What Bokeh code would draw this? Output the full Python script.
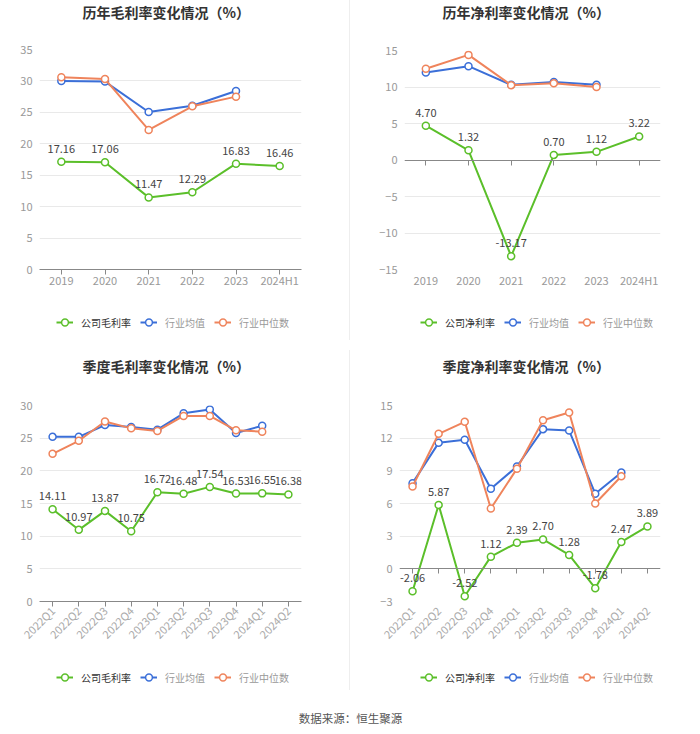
import math
from bokeh.plotting import figure
from bokeh.models import (FactorRange, Range1d, FixedTicker, CategoricalAxis,
                          Legend, LegendItem, Div, Title)
from bokeh.layouts import row, column
from bokeh.core.properties import value
from bokeh.embed import file_html
from bokeh.resources import INLINE

FONT = "Noto Sans CJK SC"
GREEN = "#5bbf2a"
BLUE = "#3b6fd8"
ORANGE = "#ef845c"
NAN = float("nan")

years = ["2019", "2020", "2021", "2022", "2023", "2024H1"]
quarters = ["2022Q1", "2022Q2", "2022Q3", "2022Q4", "2023Q1", "2023Q2",
            "2023Q3", "2023Q4", "2024Q1", "2024Q2"]

annual_gross_company = [17.16, 17.06, 11.47, 12.29, 16.83, 16.46]
annual_gross_mean = [30.0, 29.9, 25.05, 26.06, 28.4]
annual_gross_median = [30.6, 30.3, 22.2, 25.96, 27.5]

annual_net_company = [4.70, 1.32, -13.17, 0.70, 1.12, 3.22]
annual_net_mean = [12.0, 12.85, 10.3, 10.7, 10.3]
annual_net_median = [12.5, 14.4, 10.25, 10.5, 10.0]

quarter_gross_company = [14.11, 10.97, 13.87, 10.75, 16.72, 16.48, 17.54, 16.53, 16.55, 16.38]
quarter_gross_mean = [25.2, 25.2, 27.0, 26.7, 26.3, 28.8, 29.4, 25.8, 26.9]
quarter_gross_median = [22.6, 24.6, 27.55, 26.5, 26.1, 28.4, 28.4, 26.2, 26.0]

quarter_net_company = [-2.06, 5.87, -2.52, 1.12, 2.39, 2.70, 1.28, -1.78, 2.47, 3.89]
quarter_net_mean = [7.87, 11.57, 11.85, 7.35, 9.4, 12.83, 12.7, 6.9, 8.85]
quarter_net_median = [7.56, 12.4, 13.5, 5.54, 9.2, 13.65, 14.35, 6.0, 8.5]

legend_labels_gross = ["公司毛利率", "行业均值", "行业中位数"]
legend_labels_net = ["公司净利率", "行业均值", "行业中位数"]
footer_text = ["数据来源：恒生聚源"]


def make_panel(title, cats, company, mean, median, y0, y1, step,
               width, height, left, right, top, bottom, rotated, zero_axis,
               title_offset, spacer_standoff):
    p = figure(width=width, height=height, x_range=FactorRange(factors=cats),
               y_range=Range1d(y0, y1), output_backend="svg",
               toolbar_location=None, min_border_left=left,
               min_border_right=right, min_border_top=top,
               min_border_bottom=bottom)
    p.outline_line_color = None
    p.background_fill_color = "white"
    p.border_fill_color = "white"
    # spacer (closest to frame) then real title above it
    p.add_layout(Title(text=" ", text_font_size="1px", standoff=spacer_standoff,
                       text_color="white"), "above")
    p.add_layout(Title(text=title, align="left", offset=title_offset, standoff=0,
                       vertical_align="top",
                       text_font=FONT, text_font_size="14px",
                       text_font_style="bold", text_color="#333333"), "above")

    p.xgrid.grid_line_color = None
    p.ygrid.grid_line_color = "#e9e9e9"
    p.yaxis.ticker = FixedTicker(ticks=list(range(y0, y1 + 1, step)))
    p.yaxis.axis_line_color = None
    p.yaxis.major_tick_line_color = None
    p.yaxis.minor_tick_line_color = None
    p.yaxis.major_tick_out = 0
    p.yaxis.major_label_standoff = 7
    p.yaxis.major_label_text_font = FONT
    p.yaxis.major_label_text_font_size = "11px"
    p.yaxis.major_label_text_color = "#999999"

    xa = p.xaxis[0]
    xa.major_label_text_font = FONT
    xa.major_label_text_font_size = "11px"
    xa.major_label_text_color = "#999999" if not rotated else "#aaaaaa"
    if rotated:
        xa.major_label_orientation = math.pi / 4
    if zero_axis:
        xa.axis_line_color = None
        xa.major_tick_line_color = None
        xa.major_tick_out = 0
        xa.major_label_standoff = 2 if not rotated else 7
        za = CategoricalAxis(fixed_location=0, axis_line_color="#888888",
                             major_tick_line_color="#888888",
                             major_tick_out=5, major_tick_in=0,
                             major_label_text_color=None)
        p.add_layout(za, "below")
    else:
        xa.axis_line_color = "#888888"
        xa.major_tick_line_color = "#888888"
        xa.major_tick_out = 5
        xa.major_tick_in = 0
        xa.major_label_standoff = -3 if not rotated else 2

    n = len(mean)
    p.line(cats[:n], mean, line_color=BLUE, line_width=2)
    p.scatter(cats[:n], mean, size=7, marker="circle", fill_color="white",
              line_color=BLUE, line_width=1.5)
    n2 = len(median)
    p.line(cats[:n2], median, line_color=ORANGE, line_width=2)
    p.scatter(cats[:n2], median, size=7, marker="circle", fill_color="white",
              line_color=ORANGE, line_width=1.5)
    p.line(cats, company, line_color=GREEN, line_width=2)
    p.scatter(cats, company, size=7, marker="circle", fill_color="white",
              line_color=GREEN, line_width=1.5)
    p.text(x=cats, y=company, text=[f"{v:.2f}" for v in company],
           text_align="center", text_baseline="middle", y_offset=-13,
           text_font=value(FONT), text_font_size="11px", text_color="#444444")
    return p


def make_legend(labels, width, height, xs, center):
    lf = figure(width=width, height=height, x_range=Range1d(0, 1),
                y_range=Range1d(0, 1), output_backend="svg",
                toolbar_location=None, x_axis_location=None,
                y_axis_location=None, min_border=0)
    lf.outline_line_color = None
    lf.grid.visible = False
    gh = 20
    colors = [GREEN, BLUE, ORANGE]
    text_colors = ["#333333", "#999999", "#999999"]
    for lab, c, tc, lx in zip(labels, colors, text_colors, xs):
        lr = lf.line(x=[NAN], y=[NAN], line_color=c, line_width=2)
        sr = lf.scatter(x=[NAN], y=[NAN], size=7, marker="circle",
                        fill_color="white", line_color=c, line_width=1.5)
        lg = Legend(items=[LegendItem(label=lab, renderers=[lr, sr])],
                    location=(lx, height - center - gh / 2),
                    orientation="horizontal", padding=0, margin=0,
                    border_line_alpha=0, background_fill_alpha=0,
                    glyph_width=17, glyph_height=gh, label_height=gh,
                    label_standoff=8, spacing=0, label_text_font=FONT,
                    label_text_font_size="10px", label_text_color=tc)
        lf.add_layout(lg, "center")
    return lf


f1 = make_panel("历年毛利率变化情况（%）", years, annual_gross_company,
                annual_gross_mean, annual_gross_median,
                0, 35, 5, 349, 305, 39, 48, 49, 36, False, False, 43, 23)
f2 = make_panel("历年净利率变化情况（%）", years, annual_net_company,
                annual_net_mean, annual_net_median,
                -15, 15, 5, 350, 305, 54, 40, 50, 36, False, True, 38, 24)
f3 = make_panel("季度毛利率变化情况（%）", quarters, quarter_gross_company,
                quarter_gross_mean, quarter_gross_median,
                0, 30, 5, 349, 310, 39, 48, 55, 59, True, False, 43, 25)
f4 = make_panel("季度净利率变化情况（%）", quarters, quarter_net_company,
                quarter_net_mean, quarter_net_median,
                -3, 15, 3, 350, 310, 49, 40, 55, 59, True, True, 43, 25)

# legend x positions are relative to the (aligned) chart frame left edge
l1 = make_legend(legend_labels_gross, 349, 45, [17, 101, 175], 17)
l2 = make_legend(legend_labels_net, 350, 45, [16, 100, 174], 17)
l3 = make_legend(legend_labels_gross, 349, 40, [17, 101, 175], 17)
l4 = make_legend(legend_labels_net, 350, 40, [21, 105, 179], 17)

footer = figure(width=700, height=34, x_range=Range1d(0, 1), y_range=Range1d(0, 1),
                output_backend="svg", toolbar_location=None,
                x_axis_location=None, y_axis_location=None, min_border=0)
footer.outline_line_color = None
footer.grid.visible = False
footer.text(x=[0.5], y=[0.5], text=footer_text, text_align="center",
            text_baseline="middle", text_font=value(FONT),
            text_font_size="11.5px", text_color="#555555")

d1 = Div(width=1, height=340, margin=0, styles={"background-color": "#eeeeee"})
d2 = Div(width=1, height=340, margin=0, styles={"background-color": "#eeeeee"})

root = column(row(column(f1, l1), d1, column(f2, l2)),
              row(column(f3, l3), d2, column(f4, l4)),
              footer)

open("out.html", "w").write(file_html(root, INLINE))
